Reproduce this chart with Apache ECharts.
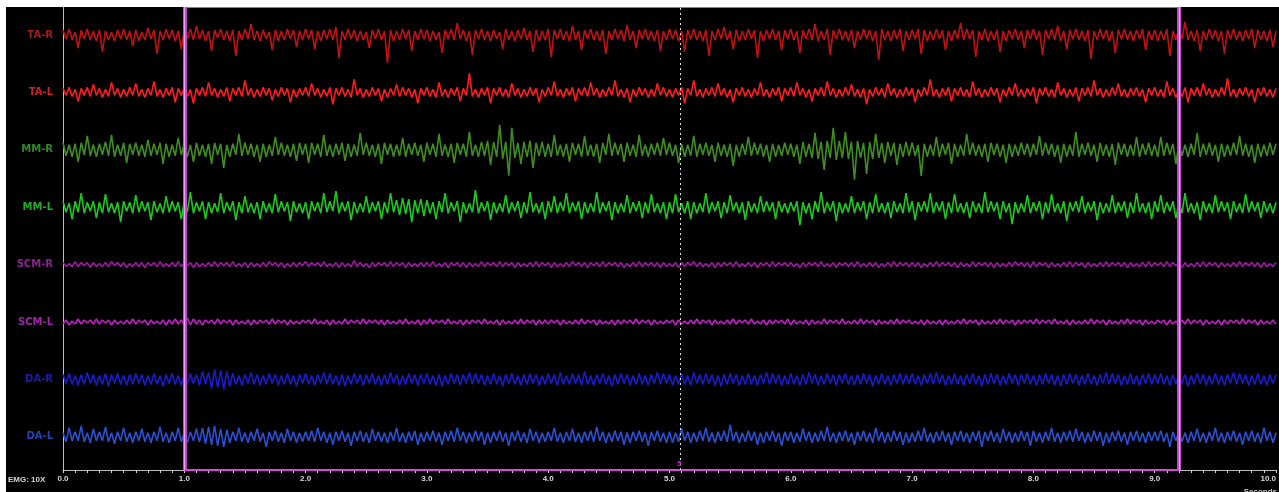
<!DOCTYPE html>
<html>
<head>
<meta charset="utf-8">
<script src="https://cdn.jsdelivr.net/npm/echarts@6/dist/echarts.min.js"></script>
<style>
  html, body { margin: 0; padding: 0; background: #fff; width: 1279px; height: 492px; overflow: hidden; }
  #chart { position: absolute; left: 6px; top: 7px; width: 1273px; height: 485px; }
</style>
</head>
<body>
<div id="chart"></div>
<script>
// channel names, top to bottom
const channelNames = ["TA-R", "TA-L", "MM-R", "MM-L", "SCM-R", "SCM-L", "DA-R", "DA-L"];

// seconds between samples; one row = one second (40 samples)
const sampleStep = 0.025;

const taR = [
  5,-4,6,-5,3,-13,5,-4,6,-5,4,-6,5,-17,4,-5,3,-6,5,-4,6,-5,4,-11,5,-6,3,-5,7,-4,5,-19,4,-5,6,-4,5,-6,4,-14,
  5,-4,6,-5,9,-4,5,-6,4,-16,5,-3,6,-5,4,-6,5,-21,4,-5,6,-4,11,-5,4,-6,5,-4,3,-15,5,-6,4,-5,6,-4,5,-12,4,-5,
  6,-4,5,-14,4,-6,5,-4,6,-5,8,-23,4,-5,6,-4,5,-6,4,-5,3,-13,5,-4,6,-5,4,-28,5,-6,4,-5,6,-4,5,-16,4,-5,6,-4,
  5,-6,4,-5,3,-18,5,-4,6,-5,12,-4,5,-6,4,-20,5,-4,6,-5,4,-6,5,-4,3,-14,6,-5,4,-6,5,-4,7,-5,4,-17,5,-6,4,-5,
  6,-22,5,-4,6,-5,4,-6,9,-5,4,-15,5,-4,6,-5,4,-6,5,-19,4,-5,6,-4,5,-6,10,-5,4,-13,5,-4,6,-5,4,-6,5,-16,4,-5,
  6,-4,5,-6,4,-17,5,-4,6,-5,4,-6,5,-21,4,-5,6,-4,8,-5,4,-14,5,-6,4,-5,6,-4,5,-23,4,-6,5,-4,6,-5,4,-15,5,-4,
  6,-5,4,-18,5,-4,6,-5,11,-6,4,-5,6,-20,5,-4,6,-5,4,-6,5,-13,4,-5,6,-4,5,-6,4,-25,6,-5,4,-6,5,-4,6,-16,4,-5,
  5,-4,6,-19,5,-6,4,-5,6,-4,5,-15,4,-6,5,-4,12,-5,6,-4,5,-22,4,-5,6,-6,4,-5,5,-17,4,-6,5,-4,6,-5,4,-13,5,-4,
  6,-5,4,-20,5,-4,6,-5,9,-6,4,-14,5,-4,6,-5,4,-6,5,-24,4,-5,6,-4,5,-6,4,-18,5,-4,6,-5,4,-6,5,-4,6,-15,4,-5,
  5,-6,4,-5,6,-21,4,-5,6,-4,13,-5,4,-6,5,-16,4,-5,6,-4,5,-6,4,-19,5,-4,6,-5,4,-6,5,-4,6,-13,5,-5,4,-6,5,-12,
  4
];
const taL = [
  4,-3,5,-4,3,-9,4,-3,5,-4,8,-3,4,-5,3,-4,10,-3,4,-5,3,-4,5,-3,9,-4,3,-5,4,-3,11,-4,3,-5,4,-3,5,-10,4,-3,
  5,-4,3,-11,4,-3,5,-4,10,-3,4,-5,3,-4,5,-9,4,-3,5,-4,12,-3,4,-5,3,-4,5,-3,4,-8,3,-4,5,-3,4,-10,3,-5,4,-3,
  5,-4,9,-3,4,-5,3,-4,5,-12,4,-3,5,-4,3,-5,13,-3,4,-5,3,-4,5,-3,4,-9,3,-5,4,-3,8,-4,5,-3,4,-5,3,-11,4,-3,
  5,-4,3,-5,10,-4,3,-5,4,-3,5,-9,4,-3,19,-4,3,-5,4,-3,5,-11,4,-3,5,-4,3,-5,9,-3,4,-5,3,-4,5,-3,4,-10,3,-4,
  5,-3,11,-4,3,-5,4,-3,5,-9,4,-3,5,-4,10,-3,4,-5,3,-4,5,-3,12,-4,3,-5,4,-10,3,-4,5,-3,4,-5,3,-4,9,-3,5,-4,
  3,-5,4,-3,5,-11,4,-3,12,-4,3,-5,4,-3,5,-4,9,-3,4,-5,3,-10,4,-3,5,-4,3,-5,4,-3,10,-4,3,-5,4,-3,5,-9,4,-3,
  5,-4,10,-3,4,-5,3,-9,4,-3,5,-4,11,-3,4,-5,3,-4,5,-3,8,-4,3,-5,4,-12,3,-4,5,-3,4,-5,9,-3,4,-5,3,-4,5,-3,
  4,-10,3,-4,5,-3,13,-4,3,-5,4,-3,5,-9,4,-3,5,-4,3,-5,11,-3,4,-5,3,-4,5,-3,4,-10,3,-4,5,-3,9,-4,3,-5,4,-3,
  5,-11,4,-3,5,-4,3,-5,10,-3,4,-5,3,-4,5,-9,4,-3,5,-4,12,-3,4,-5,3,-4,5,-3,9,-4,3,-5,4,-3,5,-4,3,-10,4,-3,
  5,-4,3,-5,11,-3,4,-5,3,-4,5,-10,4,-3,5,-4,9,-3,4,-5,3,-4,5,-3,14,-4,3,-5,4,-3,5,-4,3,-10,4,-3,5,-4,3,-5,
  4
];
const mmR = [
  7,-6,5,-7,6,-12,7,-5,14,-6,5,-7,6,-5,8,-6,15,-7,5,-6,7,-13,6,-5,7,-6,5,-7,10,-6,6,-5,7,-14,6,-7,5,-6,12,-5,
  6,-7,5,-12,7,-6,5,-7,6,-14,7,-5,6,-18,5,-7,6,-5,16,-6,7,-5,6,-7,5,-12,6,-7,5,-6,13,-5,7,-6,5,-7,6,-11,7,-5,
  6,-13,7,-5,6,-7,15,-6,5,-7,6,-5,7,-11,6,-7,5,-6,17,-5,7,-6,5,-7,6,-14,7,-5,6,-7,5,-6,12,-7,6,-5,7,-6,5,-12,
  7,-5,6,-7,16,-6,5,-7,6,-13,7,-5,6,-7,18,-6,5,-7,8,-6,9,-15,8,-7,25,-9,8,-26,22,-8,7,-14,8,-7,9,-18,7,-6,8,-7,
  6,-7,15,-6,5,-7,6,-12,7,-5,6,-7,14,-6,5,-7,6,-13,7,-5,16,-6,7,-5,6,-12,7,-6,5,-7,15,-6,5,-7,6,-5,7,-6,12,-5,
  7,-6,5,-13,6,-7,5,-6,14,-7,6,-5,7,-6,5,-12,7,-6,5,-7,6,-16,5,-7,6,-5,13,-6,7,-5,6,-7,5,-12,6,-7,5,-6,7,-5,
  6,-7,5,-14,8,-7,6,-8,17,-9,8,-20,9,-8,22,-10,9,-8,18,-9,8,-30,9,-8,7,-24,8,-9,16,-8,7,-13,8,-6,7,-15,6,-7,8,-6,
  7,-6,5,-26,6,-7,5,-6,13,-7,6,-5,7,-14,6,-7,5,-6,16,-5,7,-6,5,-7,6,-12,7,-5,6,-7,5,-13,6,-7,5,-6,7,-5,6,-7,
  6,-5,14,-6,7,-5,6,-7,5,-13,6,-7,5,-6,18,-7,6,-5,7,-6,5,-12,7,-6,5,-7,6,-15,7,-5,6,-7,5,-6,13,-7,6,-5,7,-6,
  5,-7,13,-6,7,-5,6,-14,7,-6,5,-7,6,-5,17,-7,6,-5,7,-6,5,-12,6,-7,5,-6,7,-5,14,-6,6,-7,5,-13,6,-7,5,-6,7,-5,
  6
];
const mmL = [
  6,-5,4,-12,6,-5,14,-6,5,-4,6,-11,5,-6,13,-5,4,-6,5,-15,6,-4,5,-6,12,-5,6,-4,5,-13,6,-5,4,-6,11,-5,6,-4,5,-12,
  6,-5,15,-6,5,-4,6,-12,5,-6,4,-5,14,-6,5,-4,6,-13,5,-6,11,-5,4,-6,5,-12,6,-5,4,-6,13,-5,6,-4,5,-14,6,-5,4,-6,
  5,-12,6,-4,5,-6,14,-5,6,-4,16,-6,5,-4,6,-13,5,-6,4,-5,11,-6,5,-4,6,-12,5,-6,14,-5,7,-8,9,-7,8,-15,7,-6,8,-9,
  7,-6,5,-12,6,-5,14,-6,5,-4,6,-15,5,-6,4,-5,17,-6,5,-4,6,-13,5,-6,4,-5,12,-6,5,-4,6,-11,5,-6,15,-5,4,-6,5,-12,
  6,-5,11,-6,5,-4,14,-6,5,-4,6,-12,5,-6,4,-5,15,-6,5,-4,6,-13,5,-6,4,-5,12,-6,5,-4,6,-11,5,-6,13,-5,4,-6,5,-12,
  5,-6,13,-5,4,-6,6,-12,5,-6,4,-5,14,-6,5,-4,6,-11,5,-6,12,-4,5,-6,5,-13,6,-5,4,-6,11,-5,6,-4,5,-12,6,-5,4,-6,
  5,-4,6,-18,5,-6,4,-12,6,-5,15,-6,5,-4,6,-14,5,-6,4,-5,11,-6,5,-4,6,-12,5,-6,13,-5,4,-6,5,-11,6,-5,4,-6,14,-5,
  6,-13,5,-4,6,-5,14,-6,5,-4,6,-12,5,-6,13,-5,4,-6,5,-11,6,-5,4,-6,15,-5,6,-4,5,-12,6,-5,4,-17,5,-6,4,-5,12,-6,
  5,-4,6,-12,5,-6,13,-5,4,-6,6,-14,5,-4,6,-5,11,-6,5,-4,6,-13,5,-6,4,-5,12,-6,5,-4,6,-11,5,-6,14,-5,4,-6,5,-12,
  6,-5,12,-6,5,-4,6,-11,5,-6,14,-5,4,-6,5,-13,6,-5,4,-6,12,-5,6,-4,5,-12,6,-5,4,-6,13,-5,6,-4,5,-11,6,-5,4,-6,
  5
];
const scmR = [
  2,-2,1,-2,3,-2,2,-1,2,-3,2,-2,1,-2,2,-2,3,-1,2,-2,2,-3,1,-2,2,-2,2,-3,2,-1,2,-2,3,-2,1,-2,2,-2,3,-2,
  2,-1,2,-3,2,-2,1,-2,2,-2,3,-2,2,-1,2,-2,3,-2,1,-2,2,-3,2,-2,1,-2,2,-2,3,-1,2,-2,2,-3,1,-2,2,-2,2,-1,
  3,-2,2,-1,2,-2,3,-2,1,-2,2,-3,2,-2,1,-2,4,-2,2,-2,1,-3,2,-2,2,-1,2,-2,3,-2,2,-1,2,-3,2,-2,1,-2,2,-2,
  2,-2,3,-2,1,-2,2,-3,2,-1,2,-2,2,-3,2,-2,1,-2,3,-2,2,-1,2,-2,3,-2,2,-1,2,-3,2,-2,1,-2,2,-2,3,-2,2,-1,
  2,-3,2,-2,1,-2,2,-2,3,-1,2,-2,2,-3,2,-1,2,-2,3,-2,2,-1,2,-2,2,-3,1,-2,2,-2,3,-2,2,-1,2,-2,2,-3,2,-2,
  1,-2,2,-3,2,-2,2,-1,3,-2,2,-2,1,-2,2,-3,2,-2,2,-1,2,-2,3,-2,1,-2,2,-2,2,-3,2,-1,2,-2,3,-2,2,-1,2,-2,
  2,-2,1,-3,2,-2,2,-1,2,-2,3,-2,1,-2,2,-3,2,-1,2,-2,2,-2,3,-2,1,-2,2,-2,2,-3,1,-2,2,-2,3,-2,2,-1,2,-2,
  2,-2,2,-3,1,-2,2,-2,3,-2,2,-1,2,-2,2,-3,2,-2,1,-2,3,-2,2,-1,2,-2,2,-3,2,-2,1,-2,2,-2,3,-1,2,-2,2,-3,
  3,-2,2,-1,2,-3,2,-2,1,-2,2,-2,3,-2,2,-1,2,-3,2,-2,1,-2,2,-2,3,-2,2,-1,2,-2,2,-3,2,-2,1,-2,2,-2,3,-2,
  2,-1,2,-2,3,-2,2,-1,2,-3,2,-2,1,-2,2,-2,3,-2,2,-1,2,-3,2,-2,1,-2,2,-2,3,-2,2,-1,2,-2,2,-3,2,-2,1,-2,
  2
];
const scmL = [
  -2,2,-3,1,-2,3,-2,2,-1,2,-2,3,-2,2,-1,2,-3,2,-2,1,-2,2,-2,3,-2,2,-1,2,-3,2,-2,1,-2,2,-3,2,-2,3,-2,2,
  -3,4,-3,3,-2,2,-3,2,-1,2,-2,3,-2,2,-1,2,-3,2,-2,1,-2,2,-3,2,-2,2,-1,2,-2,3,-2,2,-1,2,-3,2,-2,1,-2,2,
  -1,2,-2,3,-2,1,-2,2,-3,2,-2,1,-2,3,-2,2,-1,2,-2,3,-2,2,-1,2,-2,2,-3,2,-2,1,-2,2,-2,3,-2,1,-2,2,-3,2,
  -2,3,-2,2,-1,2,-2,3,-2,1,-2,2,-3,2,-2,2,-1,2,-2,3,-2,1,-2,2,-3,2,-2,1,-2,2,-2,3,-2,2,-1,2,-3,2,-2,2,
  -2,2,-1,2,-3,2,-2,1,-2,2,-2,3,-2,2,-1,2,-3,2,-2,1,-2,2,-3,2,-2,2,-1,2,-2,3,-2,2,-1,2,-3,2,-2,1,-2,2,
  -1,2,-3,2,-2,1,-2,2,-2,3,-2,2,-1,2,-3,2,-2,1,-2,2,-2,3,-2,2,-1,2,-2,3,-2,1,-2,2,-3,2,-2,2,-1,2,-2,3,
  -3,2,-2,1,-2,2,-3,2,-2,1,-2,3,-2,2,-1,2,-2,3,-2,1,-2,2,-2,3,-2,2,-1,2,-3,2,-2,1,-2,2,-2,3,-2,2,-1,2,
  -2,1,-2,2,-3,2,-2,1,-2,2,-3,2,-2,1,-2,2,-2,3,-2,2,-1,2,-3,2,-2,1,-2,2,-2,3,-2,2,-1,2,-3,2,-2,2,-1,2,
  -2,3,-2,2,-1,2,-2,3,-2,1,-2,2,-3,2,-2,1,-2,2,-2,3,-2,2,-1,2,-3,2,-2,1,-2,2,-2,3,-2,2,-1,2,-3,2,-2,1,
  -2,2,-1,2,-3,2,-2,1,-2,2,-2,3,-2,2,-1,2,-3,2,-2,1,-2,2,-3,2,-2,2,-1,2,-2,3,-2,2,-1,2,-3,2,-2,1,-2,2,
  -2
];
const daR = [
  5,-4,6,-5,4,-6,5,-5,7,-4,5,-6,4,-5,6,-7,5,-4,6,-5,4,-6,5,-5,6,-4,5,-6,4,-5,6,-5,4,-7,5,-4,6,-5,4,-6,
  5,-5,6,-4,5,-6,8,-5,7,-9,10,-8,9,-10,8,-7,6,-5,4,-6,5,-4,7,-5,5,-6,4,-5,6,-4,5,-6,4,-5,6,-5,4,-7,5,-4,
  6,-5,4,-6,5,-4,7,-5,6,-5,4,-6,5,-7,4,-5,6,-4,5,-6,5,-4,6,-5,4,-6,5,-5,7,-4,5,-6,4,-5,6,-4,5,-6,5,-4,
  6,-5,4,-6,5,-7,4,-5,6,-4,5,-6,5,-4,7,-5,6,-4,5,-6,4,-5,6,-5,4,-7,5,-4,6,-5,4,-6,5,-5,6,-4,5,-6,4,-5,
  6,-4,5,-6,7,-5,4,-5,6,-4,5,-6,8,-5,4,-6,5,-4,6,-5,4,-7,5,-5,6,-4,5,-6,4,-5,6,-5,4,-6,5,-4,7,-5,6,-4,
  5,-6,4,-5,6,-5,4,-6,7,-4,5,-5,6,-4,5,-6,4,-7,5,-5,6,-4,5,-6,4,-5,6,-5,4,-6,5,-4,7,-5,6,-4,5,-6,4,-5,
  6,-5,4,-6,5,-5,7,-4,5,-6,4,-5,6,-4,5,-6,5,-4,6,-5,4,-6,5,-5,6,-4,5,-7,4,-5,6,-5,4,-6,5,-4,6,-5,5,-4,
  6,-5,4,-6,5,-4,6,-5,7,-4,5,-6,4,-5,6,-5,4,-6,5,-4,6,-5,4,-7,5,-5,6,-4,5,-6,4,-5,6,-4,5,-6,5,-4,6,-5,
  4,-6,5,-5,6,-4,5,-6,4,-7,5,-5,6,-4,5,-6,4,-5,6,-5,4,-6,5,-4,7,-5,6,-4,5,-6,4,-5,6,-5,4,-6,5,-4,6,-5,
  5,-4,6,-5,4,-6,5,-5,6,-4,5,-7,4,-5,6,-4,5,-6,4,-5,6,-5,4,-6,5,-4,7,-5,6,-4,5,-6,4,-5,6,-5,4,-6,5,-4,
  5
];
const daL = [
  4,-5,9,-4,5,-4,11,-5,4,-6,8,-4,5,-4,10,-5,4,-7,5,-4,9,-5,4,-6,5,-4,8,-5,4,-6,5,-4,10,-5,4,-6,5,-4,9,-5,
  4,-6,5,-4,8,-5,9,-7,10,-8,11,-9,8,-10,7,-6,5,-4,9,-5,4,-6,5,-4,8,-5,4,-10,5,-4,6,-5,4,-6,8,-4,5,-6,4,-5,
  5,-4,6,-5,9,-4,5,-6,4,-8,5,-4,6,-5,4,-9,5,-4,6,-5,4,-6,8,-4,5,-5,4,-6,5,-4,9,-5,4,-6,5,-4,6,-8,4,-5,
  5,-4,6,-5,4,-8,5,-4,6,-5,9,-4,5,-6,4,-5,6,-4,5,-8,4,-6,5,-4,6,-5,4,-9,5,-4,6,-5,4,-6,8,-4,5,-6,4,-5,
  5,-4,9,-5,4,-6,5,-4,8,-5,4,-6,5,-4,6,-5,10,-4,5,-6,4,-5,6,-4,5,-8,4,-6,5,-4,6,-5,4,-9,5,-4,6,-5,4,-6,
  5,-6,4,-5,8,-4,5,-6,4,-5,6,-4,9,-5,4,-6,5,-4,6,-5,12,-4,5,-6,4,-5,6,-4,5,-8,4,-6,5,-4,6,-5,4,-9,5,-4,
  5,-6,4,-5,8,-4,5,-6,4,-5,6,-4,10,-5,4,-6,5,-4,6,-5,4,-8,5,-4,6,-5,4,-6,9,-4,5,-6,4,-5,6,-4,5,-8,4,-6,
  4,-5,6,-4,9,-5,4,-6,5,-4,6,-5,4,-8,5,-4,6,-5,4,-6,5,-4,6,-10,5,-4,6,-5,4,-6,8,-4,5,-6,4,-5,6,-4,5,-9,
  6,-5,4,-6,5,-4,9,-5,4,-6,5,-4,6,-5,8,-4,5,-6,4,-5,6,-4,5,-9,4,-6,5,-4,6,-5,4,-8,5,-4,6,-5,4,-6,5,-4,
  5,-4,6,-5,4,-10,5,-4,6,-5,4,-6,5,-4,8,-5,4,-6,5,-4,9,-5,4,-6,5,-4,6,-5,4,-8,5,-4,6,-5,4,-6,9,-4,5,-6,
  4
];

const channelData = [taR, taL, mmR, mmL, scmR, scmL, daR, daL];

// cursor times (s)
const cursorStart = 1.0;
const cursorEnd = 9.2;
const markerTime = 5.09;

const traceColors = ["#c01212", "#ff1c1c", "#3e8e20", "#1fc81f", "#a216a4", "#c41cc8", "#1a1ccc", "#2a50d4"];
const labelColors = ["#a81a1a", "#d02020", "#2f8a2a", "#25aa25", "#8e2092", "#a422aa", "#1c1cae", "#2444bc"];

const chart = echarts.init(document.getElementById("chart"), null, { renderer: "canvas" });

const grids = [];
const xAxes = [];
const yAxes = [];
const series = [];

channelNames.forEach((name, i) => {
  const center = 28 + i * 57.4;
  grids.push({ left: 57, right: 3, top: center - 28, height: 56 });
  xAxes.push({ gridIndex: i, type: "value", min: 0, max: 10, show: false });
  yAxes.push({
    gridIndex: i,
    type: "value",
    min: -28,
    max: 28,
    interval: 28,
    axisLine: { show: false },
    axisTick: { show: false },
    splitLine: { show: false },
    axisLabel: {
      margin: 10,
      color: labelColors[i],
      fontFamily: "DejaVu Sans",
      fontWeight: "bold",
      fontSize: 10,
      formatter: (v) => (v === 0 ? name : ""),
    },
  });
  series.push({
    name,
    type: "line",
    xAxisIndex: i,
    yAxisIndex: i,
    data: channelData[i].map((v, k) => [k * sampleStep, v]),
    symbol: "none",
    clip: false,
    z: 3,
    lineStyle: { width: 1.6, color: traceColors[i] },
  });
});

// time axis grid spanning all channels
const axisIdx = channelNames.length;
grids.push({ left: 57, right: 3, top: 0, height: 463 });
xAxes.push({
  gridIndex: axisIdx,
  type: "value",
  min: 0,
  max: 10,
  interval: 1,
  axisLine: { lineStyle: { color: "#bdbdbd", width: 1 } },
  axisTick: { show: true, length: 3, lineStyle: { color: "#d0d0d0" } },
  minorTick: { show: true, splitNumber: 10, length: 3, lineStyle: { color: "#d0d0d0" } },
  splitLine: { show: false },
  axisLabel: {
    margin: 5,
    color: "#d8d8d8",
    fontFamily: "Liberation Sans",
    fontWeight: "bold",
    fontSize: 8,
    alignMaxLabel: "right",
    formatter: (v) => v.toFixed(1),
  },
});
yAxes.push({
  gridIndex: axisIdx,
  type: "value",
  min: 0,
  max: 1,
  axisLine: { show: true, lineStyle: { color: "#bdbdbd", width: 1 } },
  axisTick: { show: false },
  axisLabel: { show: false },
  splitLine: { show: false },
});

// dotted marker line
series.push({
  type: "line",
  xAxisIndex: axisIdx,
  yAxisIndex: axisIdx,
  data: [],
  z: 2,
  markLine: {
    silent: true,
    symbol: "none",
    label: { show: false },
    lineStyle: { type: [2, 3], color: "#e0e0e0", width: 1 },
    data: [{ xAxis: markerTime }],
  },
  markPoint: {
    silent: true,
    symbol: "circle",
    symbolSize: 0,
    label: {
      show: true,
      formatter: "5",
      color: "#d020d0",
      fontFamily: "Liberation Sans",
      fontWeight: "bold",
      fontSize: 8,
      offset: [-1, -6],
    },
    data: [{ coord: [markerTime, 0] }],
  },
});

// cursor box
series.push({
  type: "line",
  xAxisIndex: axisIdx,
  yAxisIndex: axisIdx,
  data: [],
  z: 5,
  markArea: {
    silent: true,
    itemStyle: { color: "rgba(0,0,0,0)", borderColor: "#d848d8", borderWidth: 2 },
    data: [[{ xAxis: cursorStart, yAxis: 0 }, { xAxis: cursorEnd, yAxis: 1 }]],
  },
  markLine: {
    silent: true,
    symbol: "none",
    label: { show: false },
    lineStyle: { type: "solid", color: "#b848c4", width: 4 },
    data: [{ xAxis: cursorStart }, { xAxis: cursorEnd }],
  },
});
series.push({
  type: "line",
  xAxisIndex: axisIdx,
  yAxisIndex: axisIdx,
  data: [],
  z: 6,
  markLine: {
    silent: true,
    symbol: "none",
    label: { show: false },
    lineStyle: { type: "solid", color: "#eea0f4", width: 1.2 },
    data: [{ xAxis: cursorStart }, { xAxis: cursorEnd }],
  },
});

const option = {
  backgroundColor: "#000",
  animation: false,
  grid: grids,
  xAxis: xAxes,
  yAxis: yAxes,
  series,
  graphic: [
    {
      type: "text",
      left: 2,
      top: 469,
      style: { text: "EMG: 10X", fill: "#d8d8d8", font: "bold 8px 'Liberation Sans'" },
    },
    {
      type: "text",
      right: 2,
      top: 481,
      style: { text: "Seconds", fill: "#c8c8c8", font: "bold 8px 'Liberation Sans'" },
    },
  ],
};

chart.setOption(option);
</script>
</body>
</html>
